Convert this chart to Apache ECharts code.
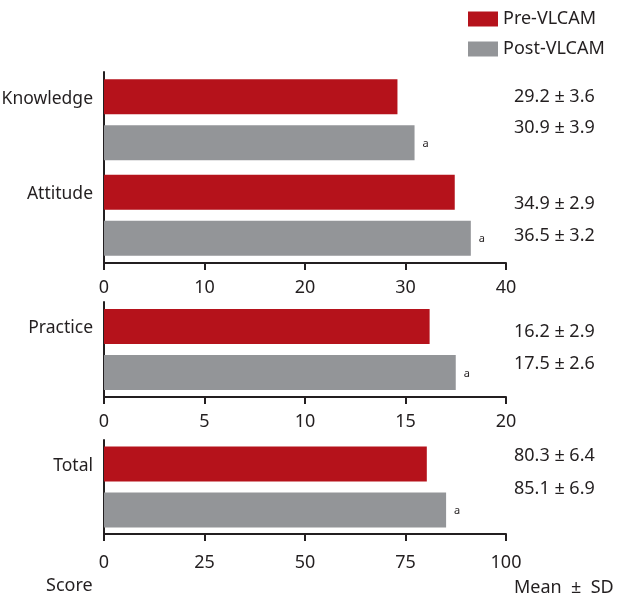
<!DOCTYPE html>
<html><head><meta charset="utf-8">
<script src="https://cdn.jsdelivr.net/npm/echarts@6/dist/echarts.min.js"></script>
<style>html,body{margin:0;padding:0;background:#fff}#c{width:620px;height:601px}</style>
</head><body><div id="c"></div>
<script>
// ---- data ----
const seriesNames = ['Pre-VLCAM', 'Post-VLCAM'];
const panelCategories = [['Knowledge', 'Attitude'], ['Practice'], ['Total']];
const preMean = [[29.2, 34.9], [16.2], [80.3]];
const preSD = [[3.6, 2.9], [2.9], [6.4]];
const postMean = [[30.9, 36.5], [17.5], [85.1]];
const postSD = [[3.9, 3.2], [2.6], [6.9]];
const axisMin = [0, 0, 0];
const axisMax = [40, 20, 100];
const axisInterval = [10, 5, 25];
const sigMark = 'a';
const footLeft = 'Score';
const footRight = 'Mean  \u00b1  SD';

// ---- style / layout ----
const RED = '#b5121b', GREY = '#939598', INK = '#231f20';
const FONT = 'Noto Sans';
const grids = [{top: 72, height: 191}, {top: 302, height: 95}, {top: 440, height: 94}];
const tickLabelMargin = [16, 16, 20];
const valueTextY = [[[100, 131], [207, 239]], [[335, 367]], [[459, 492]]];

const chart = echarts.init(document.getElementById('c'), null, {renderer: 'canvas'});

const gridOpts = grids.map(g => ({left: 104, width: 402, top: g.top, height: g.height,
  containLabel: false, outerBoundsMode: 'none'}));
const xAxes = [], yAxes = [], series = [], graphics = [];
panelCategories.forEach((cats, p) => {
  xAxes.push({
    type: 'value', gridIndex: p, min: axisMin[p], max: axisMax[p], interval: axisInterval[p],
    splitLine: {show: false},
    axisLine: {show: true, lineStyle: {color: INK, width: 2}},
    axisTick: {show: true, length: 7, lineStyle: {color: INK, width: 2}},
    axisLabel: {color: INK, fontSize: 18, fontFamily: FONT, margin: tickLabelMargin[p]}
  });
  yAxes.push({
    type: 'category', gridIndex: p, data: cats, inverse: true,
    axisLine: {show: true, lineStyle: {color: INK, width: 2}},
    axisTick: {show: false},
    axisLabel: {color: INK, fontSize: 17.5, fontFamily: FONT, margin: 11,
                verticalAlign: 'bottom', lineHeight: 42}
  });
  series.push({
    name: seriesNames[0], type: 'bar', xAxisIndex: p, yAxisIndex: p,
    data: preMean[p], barWidth: 35, barGap: '31%',
    itemStyle: {color: RED}, silent: true
  });
  series.push({
    name: seriesNames[1], type: 'bar', xAxisIndex: p, yAxisIndex: p,
    data: postMean[p], barWidth: 35, barGap: '31%',
    itemStyle: {color: GREY}, silent: true,
    label: {show: true, position: 'right', distance: 8, formatter: sigMark,
            color: INK, fontSize: 11, fontFamily: FONT, offset: [0, 1]}
  });
  cats.forEach((c, i) => {
    graphics.push({type: 'text', left: 514, top: valueTextY[p][i][0] - 12,
      style: {text: preMean[p][i].toFixed(1) + ' \u00b1 ' + preSD[p][i].toFixed(1),
              fill: INK, font: '18px "' + FONT + '"'}});
    graphics.push({type: 'text', left: 514, top: valueTextY[p][i][1] - 12,
      style: {text: postMean[p][i].toFixed(1) + ' \u00b1 ' + postSD[p][i].toFixed(1),
              fill: INK, font: '18px "' + FONT + '"'}});
  });
});
graphics.push({type: 'text', left: 46, top: 577, style: {text: footLeft, fill: INK, font: '18px "' + FONT + '"'}});
graphics.push({type: 'text', left: 514, top: 579, style: {text: footRight, fill: INK, font: '18px "' + FONT + '"'}});

chart.setOption({
  backgroundColor: '#fff',
  animation: false,
  legend: {
    data: seriesNames, orient: 'vertical', left: 463, top: 5,
    itemWidth: 30, itemHeight: 15, itemGap: 12, icon: 'rect',
    textStyle: {color: INK, fontSize: 18, fontFamily: FONT}
  },
  grid: gridOpts,
  xAxis: xAxes,
  yAxis: yAxes,
  series: series,
  graphic: graphics
});
</script></body></html>
